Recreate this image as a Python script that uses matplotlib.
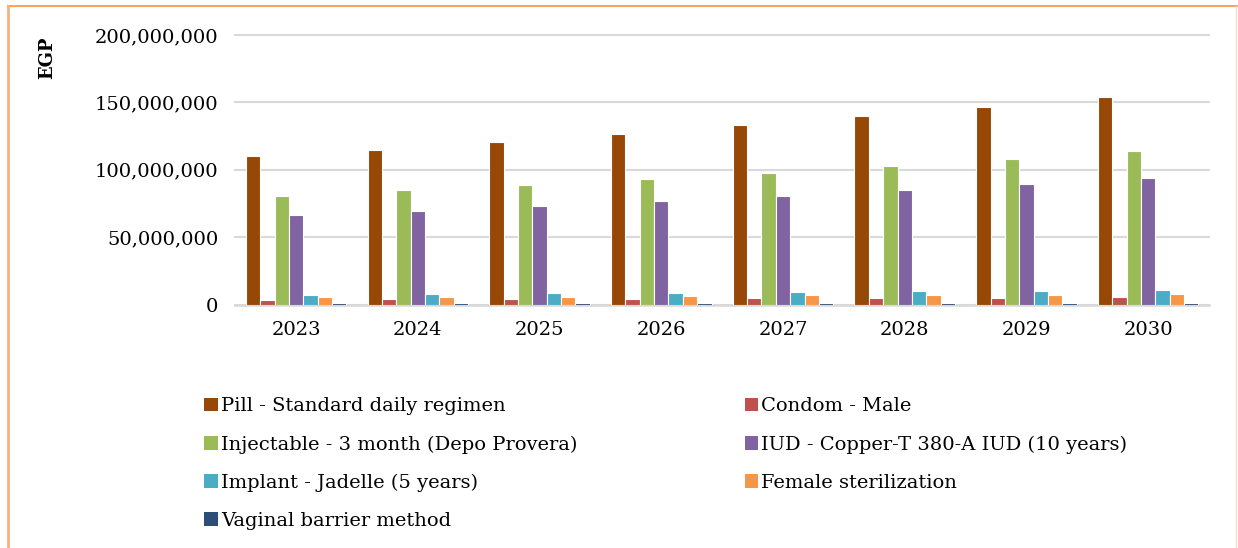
import matplotlib.pyplot as plt
import numpy as np
from matplotlib.lines import Line2D
from matplotlib.patches import Patch
from matplotlib.ticker import FuncFormatter

# data (EGP)
years = ['2023', '2024', '2025', '2026', '2027', '2028', '2029', '2030']
pill = [110.0e6, 115.0e6, 120.8e6, 126.7e6, 132.9e6, 139.6e6, 146.5e6, 154.0e6]
condom = [3.7e6, 3.9e6, 4.0e6, 4.2e6, 4.5e6, 4.8e6, 5.1e6, 5.4e6]
injectable = [80.8e6, 84.8e6, 89.0e6, 93.3e6, 97.8e6, 103.0e6, 108.2e6, 113.9e6]
iud = [66.4e6, 69.6e6, 73.1e6, 77.0e6, 80.7e6, 85.1e6, 89.6e6, 94.0e6]
implant = [7.4e6, 7.9e6, 8.2e6, 8.9e6, 9.4e6, 9.7e6, 10.1e6, 10.9e6]
female_ster = [5.3e6, 5.5e6, 5.7e6, 6.4e6, 6.7e6, 7.2e6, 7.4e6, 7.9e6]
vaginal = [1.0e6, 1.05e6, 1.1e6, 1.15e6, 1.2e6, 1.25e6, 1.3e6, 1.35e6]

labels = ['Pill - Standard daily regimen', 'Condom - Male',
          'Injectable - 3 month (Depo Provera)', 'IUD - Copper-T 380-A IUD (10 years)',
          'Implant - Jadelle (5 years)', 'Female sterilization',
          'Vaginal barrier method']
series = [pill, condom, injectable, iud, implant, female_ster, vaginal]
colors = ['#974706', '#C0504D', '#9BBB59', '#8064A2', '#4BACC6', '#F79646', '#2C4D75']

plt.rcParams['font.family'] = 'DejaVu Serif'

fig = plt.figure(figsize=(12.38, 5.48), dpi=100)
ax = fig.add_axes([0.19, 0.4443, 0.7866, 0.4917])

x = np.arange(len(years))
slot = 0.118
for i, (vals, c) in enumerate(zip(series, colors)):
    ax.bar(x + (i - 3) * slot, vals, width=slot, color=c,
           edgecolor='white', linewidth=0.8, zorder=3)

ax.set_xlim(-0.5, len(years) - 0.5)
ax.set_ylim(0, 200e6)
ax.set_yticks([0, 50e6, 100e6, 150e6, 200e6])
ax.yaxis.set_major_formatter(FuncFormatter(lambda v, p: f'{int(v):,}'))
ax.set_xticks(x)
ax.set_xticklabels(years)
ax.tick_params(axis='both', length=0, labelsize=14, colors='black')
ax.tick_params(axis='y', pad=12)
ax.tick_params(axis='x', pad=12)
ax.grid(axis='y', color='#D9D9D9', linewidth=1.5, zorder=0)
for gl in ax.get_ygridlines():
    gl.set_clip_on(False)
for s in ['top', 'right', 'left']:
    ax.spines[s].set_visible(False)
ax.spines['bottom'].set_color('#D9D9D9')
ax.spines['bottom'].set_linewidth(1.8)

fig.text(0.038, 0.895, 'EGP', rotation=90, fontsize=13, fontweight='bold',
         ha='center', va='center')

# legend, row order as in the original
order = [0, 2, 4, 6, 1, 3, 5]
handles = [Patch(facecolor=colors[k], edgecolor='none') for k in order]
fig.legend(handles, [labels[k] for k in order], ncol=2, frameon=False,
           loc='upper left', bbox_to_anchor=(0.151, 0.307), fontsize=14,
           handlelength=0.7, handleheight=0.7, handletextpad=0.15,
           columnspacing=8.6, labelspacing=1.03)

# page frame
fig.add_artist(Line2D([0.0065, 1.0], [0.989, 0.989], transform=fig.transFigure,
                      color='#F9A35E', linewidth=1.5))
fig.add_artist(Line2D([0.0065, 0.0065], [0.0, 0.989], transform=fig.transFigure,
                      color='#F4B183', linewidth=2))
fig.add_artist(Line2D([0.9985, 0.9985], [0.0, 0.989], transform=fig.transFigure,
                      color='#F8DCCB', linewidth=1))

fig.savefig('out.png', dpi=100)
